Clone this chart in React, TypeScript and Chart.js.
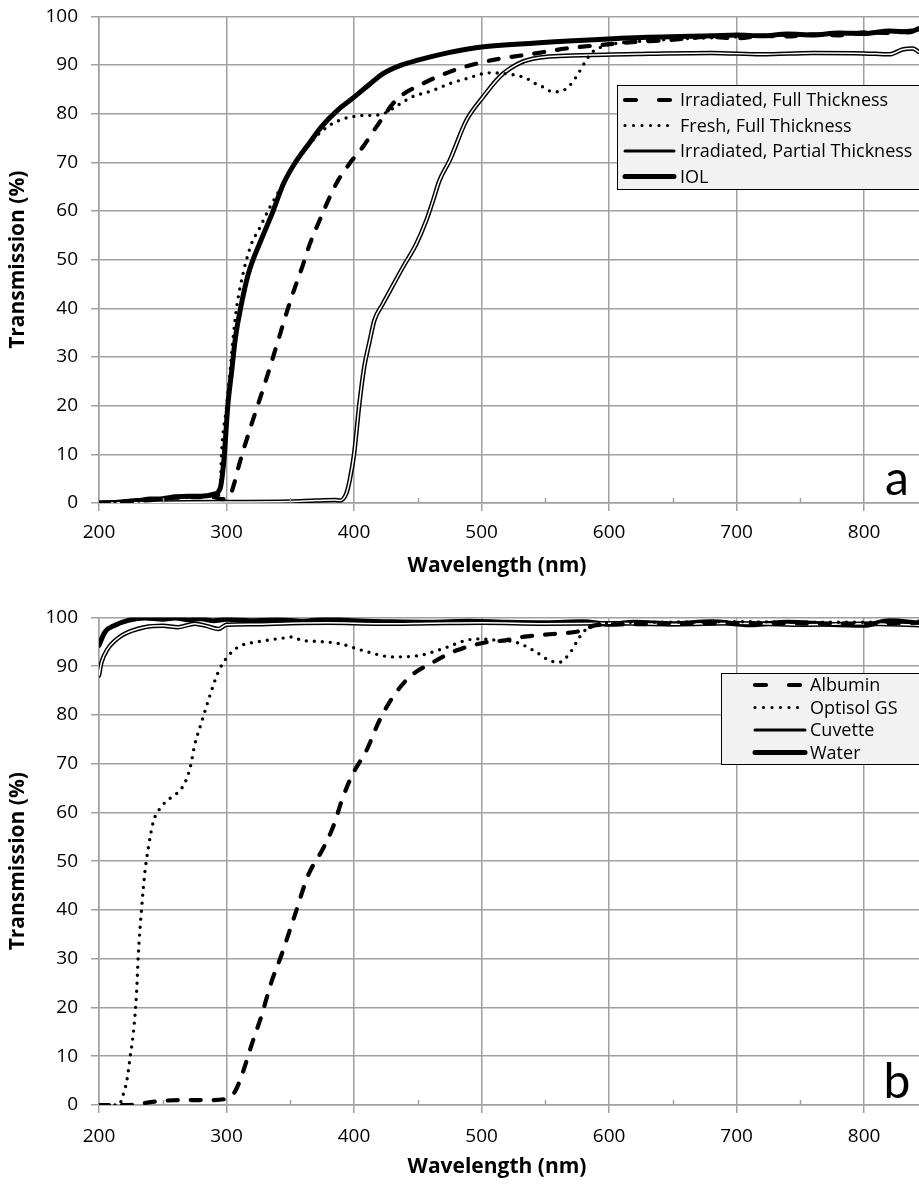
import React, { useEffect, useRef } from "react";
import { Chart, registerables } from "chart.js";
Chart.register(...registerables);

const FONT = "'Open Sans', 'Noto Sans', sans-serif";
const LETTER_FONT = "Lato, 'Open Sans', sans-serif";

// ---------- Panel a ----------
const labelsA = ["Irradiated, Full Thickness", "Fresh, Full Thickness", "Irradiated, Partial Thickness", "IOL"];

const irrFullX = [200, 220, 240, 260, 280, 290, 297, 302.6, 306, 310, 320, 330, 340, 350, 360, 365, 373, 386, 396.6, 407, 417.5, 433, 454, 475, 496, 514, 540, 566, 592.5, 618, 650, 680, 700, 720, 740, 760, 780, 800, 820, 843];
const irrFullY = [0, 0.2, 0.6, 1.1, 1.2, 1.2, 0.8, 1.5, 4, 8, 16.5, 24.5, 33, 41.5, 49, 53, 58.1, 65.6, 69.8, 73.2, 77.3, 82.8, 86.2, 88.6, 90.3, 91.3, 92.3, 93.4, 94.1, 94.7, 95.2, 95.8, 95.5, 96.0, 95.9, 96.3, 96.1, 96.7, 96.6, 97.3];

const freshX = [200, 220, 240, 260, 280, 290, 295, 296, 300, 302.6, 305, 308, 313, 319.6, 325, 334, 342, 350, 360, 370, 380, 390, 397, 405, 415, 422, 430, 436, 446, 462, 475, 488, 506, 520, 527, 535, 540, 548, 556, 562, 568, 574, 578, 582, 587, 592, 600, 620, 650, 700, 750, 800, 843];
const freshY = [0, 0.2, 0.6, 1.0, 1.3, 1.5, 1.8, 9.5, 19.8, 26.6, 33.5, 40.3, 47.2, 53.3, 56, 60.8, 64.5, 68.4, 72, 75.2, 77.5, 78.8, 79.3, 79.6, 79.7, 79.9, 81, 82, 83.5, 84.8, 86.2, 87.2, 88.4, 88.2, 87.9, 87.3, 86.5, 85.5, 84.5, 84.6, 85.5, 87.5, 89.2, 91, 92.7, 93.5, 94.2, 94.8, 95.3, 95.8, 96.2, 96.6, 97];

const partialX = [200, 250, 300, 350, 370, 385, 389, 394, 396.6, 400, 404, 408, 412, 416, 422.7, 430, 438.4, 448.9, 456.7, 462, 467, 475, 488, 501, 516.7, 540, 579, 631.6, 680, 720, 760, 800, 820, 830, 838, 843];
const partialY = [0, 0.1, 0.2, 0.3, 0.5, 0.6, 0.5, 2, 4.7, 10, 20, 28, 33, 37.6, 41, 44.5, 48.5, 53.3, 58.1, 62.2, 66.3, 70.4, 78.6, 83.4, 88.2, 91.3, 92, 92.3, 92.5, 92.2, 92.5, 92.4, 92.2, 93.2, 93.4, 92.7];

const iolX = [200, 210, 220, 230, 240, 250, 260, 270, 280, 290, 295, 298, 301, 304, 307, 311, 317, 327, 335, 345, 354, 365, 375, 387, 400, 412, 423, 437, 450, 475, 500, 540, 580, 630, 680, 700, 720, 740, 760, 780, 800, 820, 835, 843];
const iolY = [0, 0.1, 0.3, 0.5, 0.8, 0.9, 1.3, 1.4, 1.4, 1.8, 3, 9, 20, 27, 34, 40, 47, 54, 59, 65.8, 70, 74, 77.5, 80.7, 83.4, 86, 88.3, 90, 91, 92.6, 93.7, 94.5, 95.1, 95.7, 96.0, 96.2, 96.0, 96.4, 96.2, 96.6, 96.5, 97.0, 96.8, 97.5];

// ---------- Panel b ----------
const labelsB = ["Albumin", "Optisol GS", "Cuvette", "Water"];

const albuminX = [200, 223, 244, 262, 288, 301, 306.5, 312, 319.6, 327.5, 335.3, 343, 353.5, 364, 375.7, 383.5, 391.4, 399.2, 409.7, 420, 430.5, 443.6, 461.9, 480, 503.7, 519, 532.4, 556, 577, 590, 620, 700, 800, 843];
const albuminY = [0, 0, 0.7, 1, 1, 1.4, 2.7, 6.1, 12.3, 18.4, 25.3, 30.7, 38.9, 47.1, 52.6, 57, 63.2, 68, 72.7, 78.9, 83.7, 87.8, 90.8, 93.2, 94.9, 95.3, 96, 96.6, 97.2, 98.4, 98.6, 98.8, 98.7, 98.9];

const optisolX = [200, 216, 218, 221.7, 224.3, 227, 229.5, 230.8, 233.4, 236, 238.6, 242.5, 247.8, 257, 264.8, 271.3, 275, 280.4, 287, 293.5, 300, 309, 315.7, 322, 334, 345.7, 352, 358.8, 370.5, 388.8, 407, 430.5, 451.4, 469.7, 488, 498.4, 511.5, 527, 542.8, 553, 561, 569, 577, 582.5, 590, 620, 700, 800, 843];
const optisolY = [0, 0, 1.4, 4.8, 9.6, 15, 23.2, 30.7, 40.3, 47.8, 52.6, 58, 60.8, 63.2, 64.9, 69, 73.8, 78.5, 84, 88.8, 91.7, 93.9, 94.6, 94.9, 95.4, 95.8, 96, 95.3, 95.1, 94.6, 93.2, 91.9, 92.2, 93.6, 95.3, 95.6, 95.3, 94.9, 92.9, 91.2, 90.8, 92.6, 96, 97.7, 98.8, 99.0, 99.1, 99.0, 99.2];

const cuvetteX = [200, 202, 207, 218, 236, 250, 262, 275, 285, 293.5, 300, 320, 350, 380, 420, 460, 500, 550, 600, 650, 700, 750, 800, 843];
const cuvetteY = [88.1, 90.8, 93.6, 96.3, 98, 98.3, 98, 98.7, 98.2, 97.6, 98.5, 98.6, 98.8, 98.9, 98.7, 98.8, 98.9, 98.7, 98.8, 98.6, 98.8, 98.5, 98.7, 98.4];

const waterX = [200, 204.7, 212.5, 223, 236, 250, 260, 270, 280, 290, 300, 320, 340, 360, 380, 400, 430, 460, 490, 520, 550, 580, 600, 620, 650, 680, 710, 740, 770, 800, 820, 843];
const waterY = [94.3, 97, 98.4, 99.4, 99.9, 99.6, 99.9, 99.5, 99.7, 99.3, 99.6, 99.3, 99.5, 99.2, 99.7, 99.3, 99.1, 99.0, 99.2, 99.0, 98.9, 99.1, 98.6, 99.0, 98.7, 99.1, 98.5, 99.0, 98.6, 98.4, 99.3, 98.8];

const X_TITLE = "Wavelength (nm)";
const Y_TITLE = "Transmission (%)";
const X_MIN = 200;
const X_MAX = 843;
const X_STEP = 100;
const Y_MIN = 0;
const Y_MAX = 100;
const Y_STEP = 10;

type LineStyle = { width: number; dash: number[]; legendDash: number[]; legendWidth: number; double?: boolean };
const STYLES: LineStyle[] = [
  { width: 4.2, dash: [10, 13], legendDash: [11, 23], legendWidth: 4.2 },
  { width: 3.4, dash: [0, 8], legendDash: [0, 8.5], legendWidth: 3.2 },
  { width: 4.5, dash: [], legendDash: [], legendWidth: 3, double: true },
  { width: 5, dash: [], legendDash: [], legendWidth: 5 },
];

function pts(xs: number[], ys: number[]) {
  return xs.map((x, i) => ({ x, y: ys[i] }));
}

function buildDatasets(series: { x: number[]; y: number[] }[]) {
  const ds: any[] = [];
  series.forEach((s, i) => {
    const st = STYLES[i];
    const base = {
      data: pts(s.x, s.y),
      pointRadius: 0,
      fill: false,
      cubicInterpolationMode: "monotone",
      borderCapStyle: "round",
      borderJoinStyle: "round",
    };
    ds.push({ ...base, borderColor: "#000", borderWidth: st.width, borderDash: st.dash, order: 2 + i });
    if (st.double) {
      ds.push({ ...base, borderColor: "#fff", borderWidth: 1.5, borderDash: [], order: 1.5 + i });
    }
  });
  return ds;
}

const decorPlugin = {
  id: "decor",
  afterDraw(chart: any, _args: any, opts: any) {
    const ctx = chart.ctx as CanvasRenderingContext2D;
    const xs = chart.scales.x;
    const area = chart.chartArea;
    ctx.save();
    // minor ticks
    ctx.strokeStyle = "#a0a0a0";
    ctx.lineWidth = 1.5;
    for (let v = X_MIN + X_STEP / 2; v < xs.max; v += X_STEP) {
      const px = Math.round(xs.getPixelForValue(v)) + 0.5;
      ctx.beginPath();
      ctx.moveTo(px, area.bottom - 5);
      ctx.lineTo(px, area.bottom);
      ctx.stroke();
    }
    // x axis title
    ctx.fillStyle = "#000";
    ctx.font = `bold 21px ${FONT}`;
    ctx.textAlign = "center";
    ctx.textBaseline = "middle";
    ctx.fillText(X_TITLE, opts.xTitleX, opts.xTitleY);
    // panel letter
    ctx.font = `48px ${LETTER_FONT}`;
    ctx.textAlign = "center";
    ctx.textBaseline = "alphabetic";
    ctx.fillText(opts.letter, opts.letterX, opts.letterY);
    // legend
    const L = opts.legend;
    ctx.fillStyle = "#f2f2f2";
    ctx.fillRect(L.x, L.y, L.w, L.h);
    ctx.strokeStyle = "#000";
    ctx.lineWidth = 1;
    ctx.strokeRect(L.x + 0.5, L.y + 0.5, L.w, L.h);
    L.labels.forEach((label: string, i: number) => {
      const st = STYLES[i];
      const y = L.rowY0 + i * L.rowStep;
      ctx.setLineDash(st.legendDash);
      ctx.lineWidth = st.legendWidth;
      ctx.lineCap = "round";
      ctx.strokeStyle = "#000";
      ctx.beginPath();
      ctx.moveTo(L.sx0, y);
      ctx.lineTo(L.sx1, y);
      ctx.stroke();
      ctx.setLineDash([]);
      ctx.fillStyle = "#000";
      ctx.font = `${L.fontSize}px ${FONT}`;
      ctx.textAlign = "left";
      ctx.textBaseline = "middle";
      ctx.fillText(label, L.tx, y + 1);
    });
    ctx.restore();
  },
};

function makeConfig(datasets: any[], cfg: any) {
  const gridColor = "#a0a0a0";
  return {
    type: "line",
    data: { datasets },
    options: {
      animation: false,
      responsive: false,
      maintainAspectRatio: false,
      events: [],
      layout: { padding: { top: 8, right: 0, bottom: 0, left: 0 } },
      plugins: {
        legend: { display: false },
        tooltip: { enabled: false },
        decor: cfg.decor,
      },
      scales: {
        x: {
          type: "linear",
          min: X_MIN,
          max: X_MAX,
          ticks: {
            stepSize: X_STEP,
            includeBounds: false,
            autoSkip: false,
            maxRotation: 0,
            color: "#000",
            padding: cfg.xTickPad,
            font: { family: FONT, size: 19 },
          },
          grid: { color: gridColor, lineWidth: 1.5, tickLength: 8 },
          border: { color: gridColor, width: 1.5 },
          title: { display: false },
          afterFit: (s: any) => {
            s.height = cfg.xAxisH;
          },
        },
        y: {
          min: Y_MIN,
          max: Y_MAX,
          ticks: {
            stepSize: Y_STEP,
            color: "#000",
            padding: 13,
            font: { family: FONT, size: 19 },
          },
          grid: { color: gridColor, lineWidth: 1.5, tickLength: 8 },
          border: { color: gridColor, width: 1.5 },
          title: {
            display: true,
            text: Y_TITLE,
            color: "#000",
            font: { family: FONT, size: 21, weight: "bold" },
            padding: { top: 5, bottom: 0 },
          },
          afterFit: (s: any) => {
            s.width = 99;
          },
        },
      },
    },
    plugins: [decorPlugin],
  } as any;
}

function Panel({ top, height, datasets, cfg }: any) {
  const ref = useRef<HTMLCanvasElement | null>(null);
  useEffect(() => {
    if (!ref.current) return;
    const chart = new Chart(ref.current, makeConfig(datasets, cfg));
    return () => chart.destroy();
  }, []);
  return (
    <canvas
      ref={ref}
      width={919}
      height={height}
      style={{ position: "absolute", left: 0, top, width: 919, height, display: "block" }}
    />
  );
}

export default function App() {
  const dsA = buildDatasets([
    { x: irrFullX, y: irrFullY },
    { x: freshX, y: freshY },
    { x: partialX, y: partialY },
    { x: iolX, y: iolY },
  ]);
  const dsB = buildDatasets([
    { x: albuminX, y: albuminY },
    { x: optisolX, y: optisolY },
    { x: cuvetteX, y: cuvetteY },
    { x: waterX, y: waterY },
  ]);
  // Panel a canvas spans page y -8 .. 590
  const cfgA = {
    xAxisH: 87,
    xTickPad: 10,
    decor: {
      xTitleX: 497,
      xTitleY: 574,
      letter: "a",
      letterX: 897,
      letterY: 503,
      legend: { x: 617, y: 93, w: 310, h: 104, labels: labelsA, rowY0: 108, rowStep: 25.5, sx0: 625, sx1: 674, tx: 680, fontSize: 18 },
    },
  };
  // Panel b canvas spans page y 593 .. 1185
  const cfgB = {
    xAxisH: 80,
    xTickPad: 12,
    decor: {
      xTitleX: 497,
      xTitleY: 574,
      letter: "b",
      letterX: 897,
      letterY: 505,
      legend: { x: 721, y: 80, w: 210, h: 91, labels: labelsB, rowY0: 92, rowStep: 22.5, sx0: 755, sx1: 805, tx: 810, fontSize: 18 },
    },
  };
  return (
    <div style={{ position: "absolute", left: 0, top: 0, width: 919, height: 1185, background: "#fff", overflow: "hidden" }}>
      <Panel top={-8} height={598} datasets={dsA} cfg={cfgA} />
      <Panel top={593} height={592} datasets={dsB} cfg={cfgB} />
    </div>
  );
}
